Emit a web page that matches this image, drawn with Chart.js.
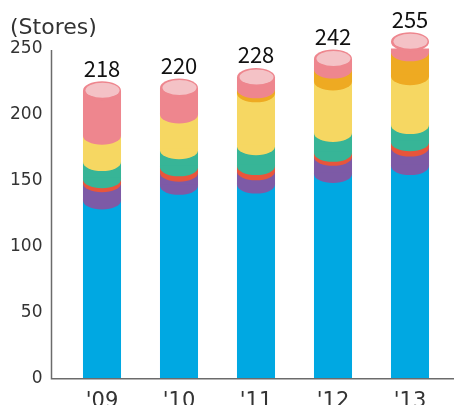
<!DOCTYPE html>
<html>
<head>
<meta charset="utf-8">
<script src="https://cdn.jsdelivr.net/npm/chart.js@4.4.1/dist/chart.umd.min.js"></script>
<style>
  html, body { margin: 0; padding: 0; background: #fff; overflow: hidden; }
  canvas { display: block; }
</style>
</head>
<body>
<canvas id="storesChart" width="454" height="410"></canvas>
<script>
/* ── Données : nombre de magasins par année ─────────────────── */
const years   = ["'09", "'10", "'11", "'12", "'13"];
const blue    = [135, 146, 147, 155, 161];
const purple  = [13, 10, 10, 13, 14];
const red     = [3, 4, 4, 3, 4];
const teal    = [13, 13, 15, 15, 13];
const yellow  = [20, 27, 40, 39, 37];
const orange  = [0, 0, 3, 9, 18];
const pink    = [34, 20, 9, 8, 8];
const yTicks  = [0, 50, 100, 150, 200, 250];

const series = [blue, purple, red, teal, yellow, orange, pink];
const colors = ['#00A8E2', '#7D5AA6', '#E8553B', '#37B597', '#F6D762', '#EEAA22', '#EE868E'];
const capLight = '#F4C2C6';
const RY = 9;

/* ── Plugin : dessine les cylindres, les axes et les totaux ──── */
const cylinderPlugin = {
    id: 'cylinders',
    afterDatasetsDraw(chart) {
        const ctx = chart.ctx;
        const n = chart.data.datasets.length;

        // bord inférieur arrondi de chaque tranche, du bas vers le haut
        // (la petite bande au-dessus de la base masque la jointure entre rectangles)
        for (let i = 1; i < n; i++) {
            const meta = chart.getDatasetMeta(i);
            meta.data.forEach((bar, j) => {
                if (!series[i][j]) return;
                const rx = bar.width / 2;
                ctx.save();
                ctx.fillStyle = colors[i];
                ctx.beginPath();
                ctx.moveTo(bar.x - rx, bar.base - 1.5);
                ctx.lineTo(bar.x + rx, bar.base - 1.5);
                ctx.lineTo(bar.x + rx, bar.base);
                ctx.ellipse(bar.x, bar.base, rx, RY, 0, 0, Math.PI);
                ctx.closePath();
                ctx.fill();
                ctx.restore();
            });
        }

        // couvercle + total au-dessus
        const top = chart.getDatasetMeta(n - 1);
        top.data.forEach((bar, j) => {
            const rx = bar.width / 2;
            const total = series.reduce((s, arr) => s + arr[j], 0);
            ctx.save();
            ctx.fillStyle = colors[n - 1];
            ctx.beginPath();
            ctx.ellipse(bar.x, bar.y, rx, RY + 0.5, 0, 0, Math.PI * 2);
            ctx.fill();
            ctx.fillStyle = capLight;
            ctx.beginPath();
            ctx.ellipse(bar.x + 0.5, bar.y - 0.5, rx - 2, RY - 1.5, 0, 0, Math.PI * 2);
            ctx.fill();

            ctx.fillStyle = '#111';
            ctx.font = '22px "Noto Sans CJK JP", "Noto Sans", sans-serif';
            ctx.textAlign = 'center';
            ctx.textBaseline = 'alphabetic';
            ctx.fillText(String(total), bar.x, bar.y - RY - 5);
            ctx.restore();
        });

        // axes
        const y = chart.scales.y;
        const x0 = 51.5;
        const yBase = y.getPixelForValue(0);
        ctx.save();
        ctx.strokeStyle = '#6b6b6b';
        ctx.lineWidth = 1.5;
        ctx.beginPath();
        ctx.moveTo(x0, y.getPixelForValue(250) + 1.5);
        ctx.lineTo(x0, yBase);
        ctx.lineTo(chart.width, yBase);
        ctx.stroke();
        ctx.restore();
    }
};

const ctx = document.getElementById('storesChart').getContext('2d');

const storesChart = new Chart(ctx, {
    type: 'bar',
    data: {
        labels: years,
        datasets: series.map((data, i) => ({
            data: data,
            backgroundColor: colors[i],
            borderWidth: 0,
            categoryPercentage: 1,
            barPercentage: 0.494
        }))
    },
    options: {
        responsive: false,
        animation: false,
        layout: { padding: { left: 10, right: 5.5, top: 0, bottom: 0 } },
        scales: {
            x: {
                stacked: true,
                afterFit: (scale) => { scale.height = 30; scale.paddingLeft = 0; scale.paddingRight = 0; },
                grid:   { display: false, drawTicks: false },
                border: { display: false },
                ticks:  { color: '#333', padding: 10, font: { family: 'DejaVu Sans', size: 21 } }
            },
            y: {
                stacked: true,
                min: 0,
                max: 250,
                afterBuildTicks: (scale) => { scale.ticks = yTicks.map(v => ({ value: v })); },
                afterFit: (scale) => { scale.width = 53.5; },
                grid:   { display: false, drawTicks: false },
                border: { display: false },
                ticks:  { color: '#333', padding: 21, font: { family: 'DejaVu Sans', size: 17 } }
            }
        },
        plugins: {
            legend:  { display: false },
            tooltip: { enabled: false },
            title: {
                display: true,
                text: '(Stores)',
                align: 'start',
                color: '#333',
                font: { family: 'DejaVu Sans', size: 22, weight: 'normal' },
                padding: { top: 15, bottom: 7 }
            }
        }
    },
    plugins: [cylinderPlugin]
});
</script>
</body>
</html>
